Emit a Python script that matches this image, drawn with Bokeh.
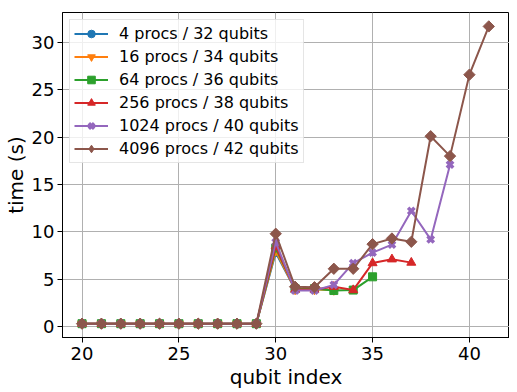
import math
from bokeh.plotting import figure
from bokeh.models import Range1d, FixedTicker, Legend, LegendItem
from bokeh.embed import file_html
from bokeh.resources import INLINE

qubits = list(range(20, 42))
labels = ["4 procs / 32 qubits", "16 procs / 34 qubits", "64 procs / 36 qubits",
          "256 procs / 38 qubits", "1024 procs / 40 qubits", "4096 procs / 42 qubits"]
t4 = [0.3, 0.3, 0.3, 0.3, 0.3, 0.3, 0.3, 0.3, 0.3, 0.3, 7.8, 3.9]
t16 = [0.3, 0.3, 0.3, 0.3, 0.3, 0.3, 0.3, 0.3, 0.3, 0.3, 8.0, 3.9, 3.9, 3.85]
t64 = [0.3, 0.3, 0.3, 0.3, 0.3, 0.3, 0.3, 0.3, 0.3, 0.3, 8.3, 4.0, 4.0, 3.8, 3.85, 5.25]
t256 = [0.3, 0.3, 0.3, 0.3, 0.3, 0.3, 0.3, 0.3, 0.3, 0.3, 8.5, 3.9, 3.9, 4.2, 3.85, 6.7, 7.1, 6.75]
t1024 = [0.3, 0.3, 0.3, 0.3, 0.3, 0.3, 0.3, 0.3, 0.3, 0.3, 8.9, 3.8, 3.8, 4.4, 6.7, 7.8, 8.65, 12.2, 9.2, 17.1]
t4096 = [0.3, 0.3, 0.3, 0.3, 0.3, 0.3, 0.3, 0.3, 0.3, 0.3, 9.8, 4.2, 4.15, 6.1, 6.1, 8.7, 9.3, 8.95, 20.1, 18.0, 26.6, 31.7]
x_ticks = [20, 25, 30, 35, 40]
y_ticks = [0, 5, 10, 15, 20, 25, 30]

series = [t4, t16, t64, t256, t1024, t4096]
colors = ["#1f77b4", "#ff7f0e", "#2ca02c", "#d62728", "#9467bd", "#8c564b"]
markers = ["circle", "inverted_triangle", "square", "triangle", "x", "square"]
sizes = [8, 9, 8, 9, 9, 8]
angles = [0, 0, 0, 0, 0, math.pi / 4]

p = figure(frame_width=447, frame_height=325, output_backend="svg", toolbar_location=None,
           x_range=Range1d(18.99, 42.07), y_range=Range1d(-1.16, 33.17),
           min_border_left=0, min_border_right=0, min_border_top=12, min_border_bottom=0)

FONT = "DejaVu Sans"
for ax in (p.xaxis[0], p.yaxis[0]):
    ax.major_label_text_font = FONT
    ax.major_label_text_font_size = "18px"
    ax.major_label_text_color = "black"
    ax.axis_label_text_font = FONT
    ax.axis_label_text_font_size = "20px"
    ax.axis_label_text_font_style = "normal"
    ax.axis_label_text_color = "black"
    ax.minor_tick_line_color = None
    ax.major_tick_in = 0
    ax.major_tick_out = 5
    ax.major_tick_line_color = "black"
    ax.axis_line_color = "black"
p.xaxis.ticker = FixedTicker(ticks=x_ticks)
p.yaxis.ticker = FixedTicker(ticks=y_ticks)
p.xaxis.axis_label = "qubit index"
p.yaxis.axis_label = "time (s)"
p.xaxis.axis_label_standoff = 2
p.yaxis.axis_label_standoff = 1
p.xaxis.major_label_standoff = 4
p.yaxis.major_label_standoff = 3

p.grid.grid_line_color = "#b0b0b0"
p.grid.grid_line_width = 1
p.outline_line_color = "black"
p.outline_line_width = 1

items = []
for lab, ys, c, m, s, a in zip(labels, series, colors, markers, sizes, angles):
    xs = qubits[:len(ys)]
    r1 = p.line(xs, ys, line_color=c, line_width=2)
    if m == "x":
        r2 = p.scatter(xs, ys, marker="x", size=s, line_color=c, line_width=3.5)
        items.append(LegendItem(label=lab, renderers=[r1, r2]))
    elif a:
        r2 = p.scatter(xs, ys, marker=m, size=s, fill_color=c, line_color=c, angle=a)
        # legend-only swatch, placed far outside the visible range
        rl = p.scatter([xs[0] - 1000], [ys[0] - 1000], marker="diamond", size=13,
                       fill_color=c, line_color=c)
        items.append(LegendItem(label=lab, renderers=[r1, rl]))
    else:
        r2 = p.scatter(xs, ys, marker=m, size=s, fill_color=c, line_color=c)
        items.append(LegendItem(label=lab, renderers=[r1, r2]))

legend = Legend(items=items, location="top_left")
legend.label_text_font = FONT
legend.label_text_font_size = "16px"
legend.label_text_color = "black"
legend.border_line_color = "#cccccc"
legend.background_fill_alpha = 0.8
legend.spacing = 4
legend.padding = 4
legend.margin = 7
legend.glyph_width = 34
legend.label_height = 19
legend.glyph_height = 19
legend.label_standoff = 11
p.add_layout(legend)

open("out.html", "w").write(file_html(p, INLINE))
